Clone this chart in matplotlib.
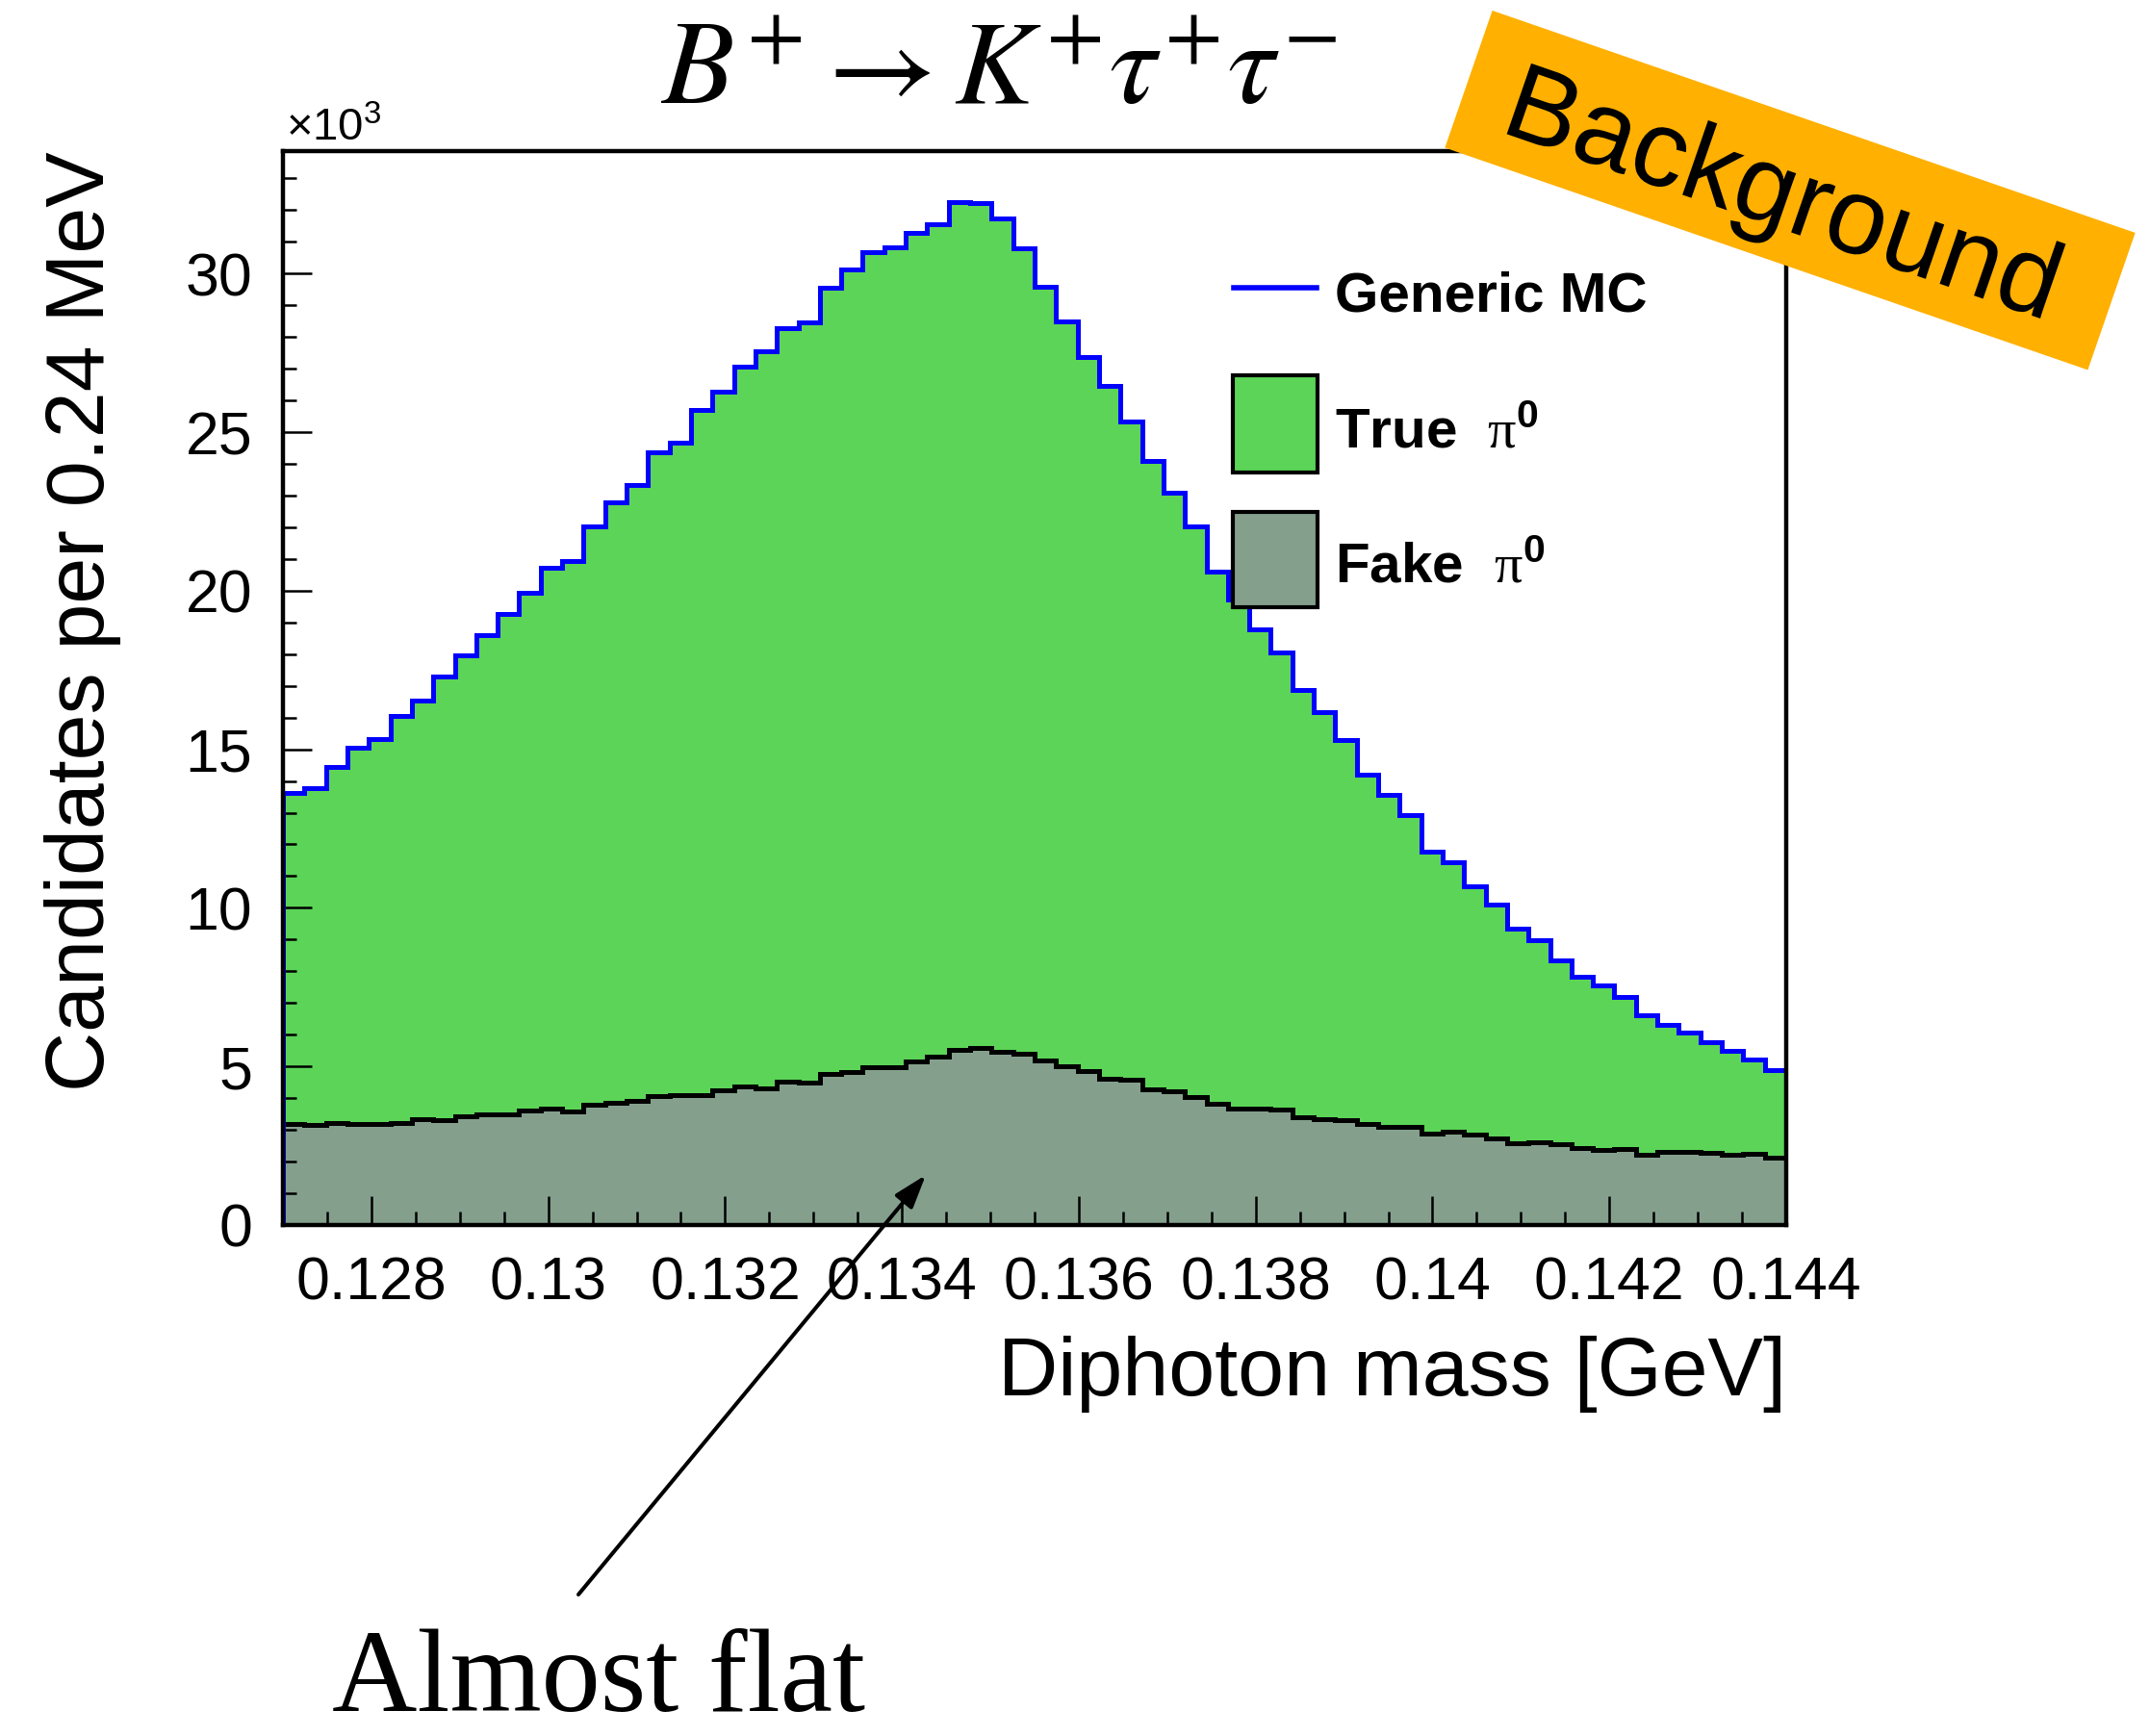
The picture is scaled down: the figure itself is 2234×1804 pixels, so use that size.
import numpy as np
import matplotlib
matplotlib.use('Agg')
import matplotlib.pyplot as plt
from matplotlib.ticker import MultipleLocator, FuncFormatter
from matplotlib.patches import Rectangle, FancyArrowPatch, PathPatch
from matplotlib.lines import Line2D
from matplotlib.textpath import TextPath
from matplotlib.font_manager import FontProperties
from matplotlib.transforms import Affine2D
from matplotlib.path import Path

W, H, DPI = 2234, 1804, 100

# binning of the diphoton mass [GeV]
x_lo, x_hi, n_bins = 0.127, 0.144, 70

# candidates per bin
generic_mc = [13620, 13760, 14430, 15040, 15310, 16060, 16530, 17280, 17960, 18600,
              19280, 19920, 20730, 20930, 22040, 22790, 23340, 24360, 24680, 25700,
              26260, 27050, 27540, 28270, 28460, 29560, 30140, 30660, 30820, 31270,
              31540, 32250, 32210, 31740, 30800, 29590, 28480, 27370, 26460, 25330,
              24090, 23100, 22020, 20590, 19710, 18770, 18050, 16880, 16180, 15280,
              14190, 13550, 12940, 11780, 11430, 10690, 10100, 9350, 8990, 8350,
              7840, 7550, 7200, 6620, 6300, 6060, 5770, 5480, 5220, 4880]
fake_pi0 = [3190, 3160, 3220, 3190, 3200, 3220, 3340, 3310, 3430, 3490,
            3490, 3600, 3660, 3570, 3800, 3860, 3920, 4060, 4090, 4110,
            4260, 4360, 4320, 4530, 4500, 4750, 4810, 4980, 4980, 5160,
            5310, 5520, 5590, 5450, 5390, 5200, 5020, 4840, 4610, 4590,
            4290, 4210, 4030, 3830, 3680, 3660, 3630, 3390, 3330, 3300,
            3190, 3080, 3080, 2870, 2930, 2840, 2730, 2580, 2620, 2550,
            2440, 2380, 2410, 2230, 2310, 2320, 2270, 2210, 2250, 2110]
y_max = 33860

green = '#5bd457'
grey = '#84a08d'
orange = '#ffb000'

plt.rcParams['font.family'] = 'Liberation Sans'
plt.rcParams['mathtext.fontset'] = 'custom'
plt.rcParams['mathtext.rm'] = 'Liberation Sans'
plt.rcParams['mathtext.bf'] = 'Liberation Sans:bold'
plt.rcParams['mathtext.sf'] = 'Liberation Serif'
plt.rcParams['mathtext.it'] = 'Liberation Sans:italic'


def fp(x, y):
    # image pixel (y down) -> figure fraction
    return (x / W, 1 - y / H)


fig = plt.figure(figsize=(W / DPI, H / DPI), dpi=DPI)
ax = fig.add_axes([294 / W, 1 - 1273 / H, (1856 - 294) / W, (1273 - 157) / H])

edges = np.linspace(x_lo, x_hi, n_bins + 1)
total = np.array(generic_mc, dtype=float)
fake = np.array(fake_pi0, dtype=float)

ax.stairs(total, edges, baseline=fake, fill=True, color=green, lw=0)
ax.stairs(fake, edges, fill=True, color=grey, lw=0)
ax.stairs(fake, edges, baseline=None, color='black', lw=3.6)
ax.stairs(total, edges, baseline=None, color='blue', lw=3.6)
ax.vlines(edges[0], 0, total[0], color='blue', lw=3.6)

ax.set_xlim(x_lo, x_hi)
ax.set_ylim(0, y_max)
ax.xaxis.set_major_locator(MultipleLocator(0.002))
ax.xaxis.set_minor_locator(MultipleLocator(0.0005))
ax.yaxis.set_major_locator(MultipleLocator(5000))
ax.yaxis.set_minor_locator(MultipleLocator(1000))
ax.xaxis.set_major_formatter(FuncFormatter(lambda v, _: '%g' % round(v, 6)))
ax.yaxis.set_major_formatter(FuncFormatter(lambda v, _: '%g' % (v / 1000)))
ax.tick_params(which='both', direction='in', top=False, right=False, width=1.8,
               labelsize=45)
ax.tick_params(which='major', length=21.6)
ax.tick_params(which='minor', length=10)
ax.tick_params(axis='y', pad=23)
ax.tick_params(axis='x', pad=23)
for sp in ax.spines.values():
    sp.set_linewidth(3.2)

# axis titles, ROOT style
fig.text(*fp(1856, 1450), 'Diphoton mass [GeV]', ha='right', va='baseline', fontsize=62)
fig.text(*fp(108, 157), 'Candidates per 0.24 MeV', rotation=90, rotation_mode='anchor',
         ha='right', va='baseline', fontsize=62)
fig.text(*fp(297, 146), r'×10$^{\mathrm{3}}$', ha='left', va='baseline', fontsize=34)
fig.text(*fp(1038, 108), r'$B^{+}\rightarrow K^{+}\tau^{+}\tau^{-}$', ha='center',
         va='baseline', fontsize=89, math_fontfamily='stix')

# legend
fig.add_artist(Line2D([1282 / W, 1368 / W], [1 - 299 / H] * 2, color='blue', lw=4,
                      transform=fig.transFigure))
fig.add_artist(Rectangle(fp(1281, 491), 88 / W, 101 / H, facecolor=green,
                         edgecolor='black', lw=3, transform=fig.transFigure))
fig.add_artist(Rectangle(fp(1281, 631), 88 / W, 99 / H, facecolor=grey,
                         edgecolor='black', lw=3, transform=fig.transFigure))
fig.text(*fp(1387, 323), 'Generic MC', weight='bold', fontsize=42, va='baseline')
fig.text(*fp(1387, 466), r'True  $\mathsf{\pi}^{\mathbf{0}}$', weight='bold', fontsize=42,
         va='baseline')
fig.text(*fp(1387, 606), r'Fake  $\mathsf{\pi}^{\mathbf{0}}$', weight='bold', fontsize=42,
         va='baseline')

# annotation
fig.add_artist(FancyArrowPatch(fp(601, 1657), fp(962, 1221), transform=fig.transFigure,
                               arrowstyle='-|>,head_length=21,head_width=7',
                               mutation_scale=1, lw=2.9, color='black',
                               shrinkA=0, shrinkB=0))
fig.text(*fp(622, 1778), 'Almost flat', ha='center', va='baseline', fontsize=88,
         family='Liberation Serif')

# tilted "Background" badge
T = (Affine2D().rotate_deg(-19.07).translate(1860, H - 197.7)
     + Affine2D().scale(1 / W, 1 / H) + fig.transFigure)
bw, bh = 706.8, 150.8
rect = Path([(-bw / 2, -bh / 2), (bw / 2, -bh / 2), (bw / 2, bh / 2), (-bw / 2, bh / 2),
             (-bw / 2, -bh / 2)], closed=True)
fig.add_artist(PathPatch(rect, facecolor=orange, lw=0, transform=T, zorder=10))
tp = TextPath((0, 0), 'Background', size=113, prop=FontProperties(family='Liberation Sans'))
ext = tp.get_extents()
tp = Affine2D().translate(-(ext.x0 + ext.x1) / 2 - 4, -41).transform_path(tp)
fig.add_artist(PathPatch(tp, facecolor='black', lw=0, transform=T, zorder=11))

fig.savefig('out.png', dpi=DPI)
